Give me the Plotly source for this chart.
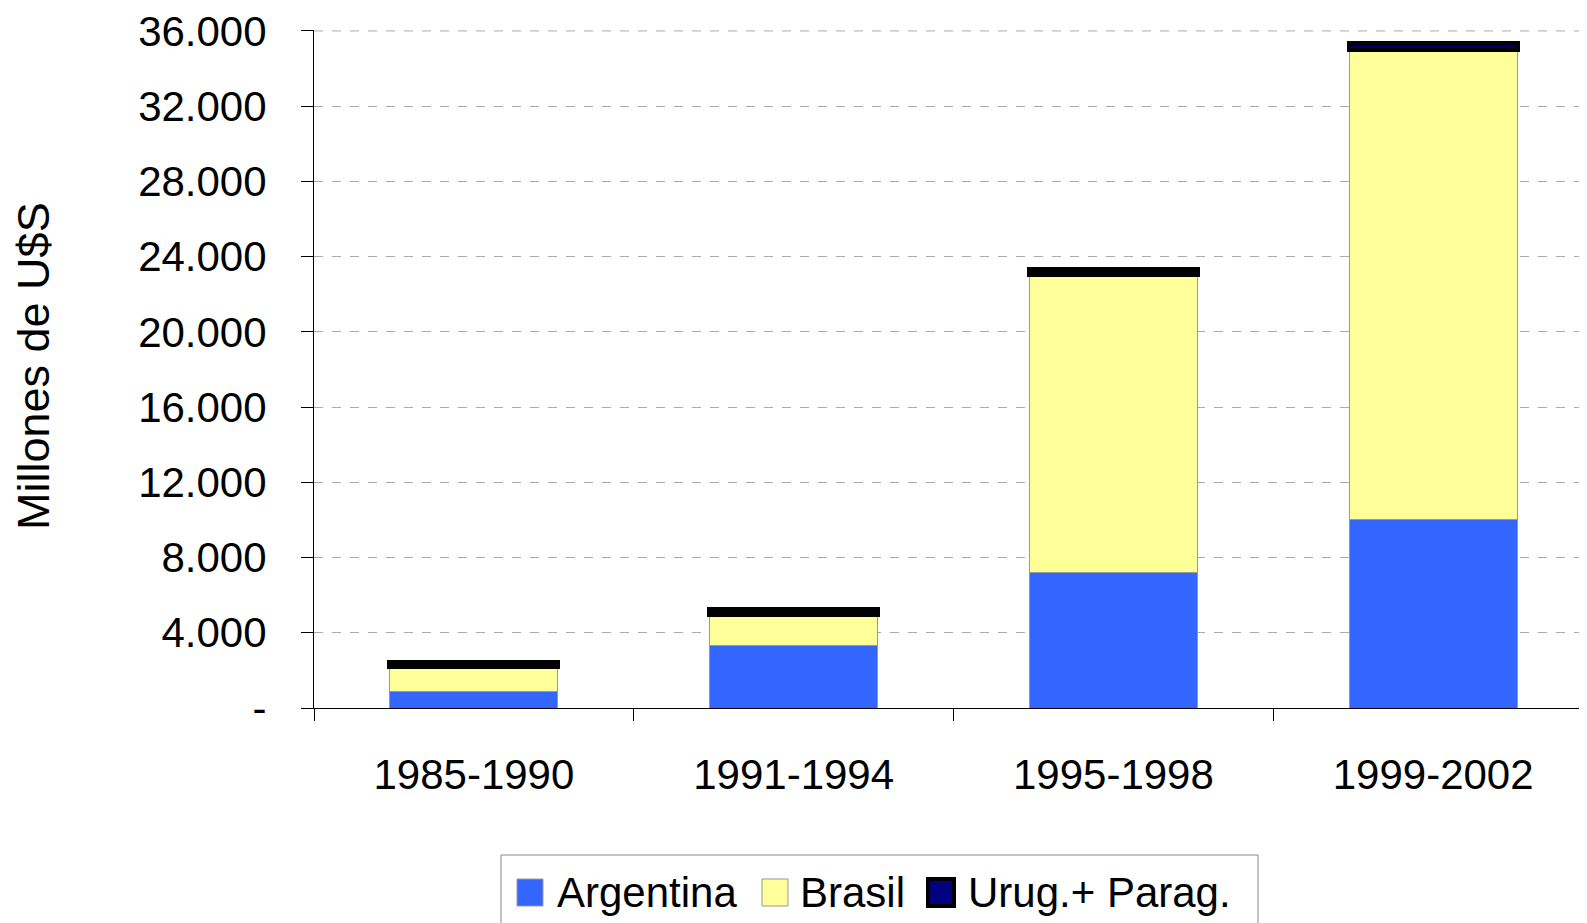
import plotly.graph_objects as go

periods = ["1985-1990", "1991-1994", "1995-1998", "1999-2002"]
argentina = [860, 3330, 7200, 10000]
brasil = [1330, 1650, 15850, 25030]
urug_parag = [220, 240, 280, 300]

series_names = ["Argentina", "Brasil", "Urug.+ Parag."]
series_colors = ["#3366FF", "#FFFF99", "#000080"]

ytick_vals = [0, 4000, 8000, 12000, 16000, 20000, 24000, 28000, 32000, 36000]
ytick_text = ["-", "4.000", "8.000", "12.000", "16.000", "20.000", "24.000", "28.000", "32.000", "36.000"]

FONT = "Liberation Sans, Arial, sans-serif"
W = 0.525

fig = go.Figure()
fig.add_trace(go.Bar(x=periods, y=argentina, name=series_names[0], width=W, showlegend=False,
                     marker=dict(color=series_colors[0], line=dict(color="#999999", width=1))))
fig.add_trace(go.Bar(x=periods, y=brasil, name=series_names[1], width=W, showlegend=False,
                     marker=dict(color=series_colors[1], line=dict(color="#999999", width=1))))
fig.add_trace(go.Bar(x=periods, y=urug_parag, name=series_names[2], width=W, showlegend=False,
                     marker=dict(color=series_colors[2], line=dict(color="#000000", width=5))))

# page has 8px body margin -> offset target page coords
OFF = 8
L = 314 - OFF
T = 30 - OFF
PH = 708 - 30
R = 2
PW = 1587 - L - R

def px(x):
    return (x - OFF - L) / PW

def py(y):
    return (T + PH - (y - OFF)) / PH

shapes = [dict(type="line", xref="paper", yref="y", x0=0, x1=1,
               y0=ytick_vals[-1], y1=ytick_vals[-1], layer="below",
               line=dict(color="#aaaaaa", width=1, dash="dash")),
          dict(type="rect", xref="paper", yref="paper",
               x0=px(501), x1=px(1258), y0=py(945), y1=py(855),
               line=dict(color="#888888", width=1), fillcolor="rgba(0,0,0,0)")]
annotations = []
sq_x = [517, 762, 928]
txt_x = [555, 798, 966]
for i, name in enumerate(series_names):
    lw = 4 if i == 2 else 1
    lc = "#000000" if i == 2 else "#999999"
    shapes.append(dict(type="rect", xref="paper", yref="paper",
                       x0=px(sq_x[i]), x1=px(sq_x[i] + 26), y0=py(906), y1=py(879),
                       line=dict(color=lc, width=lw), fillcolor=series_colors[i]))
    annotations.append(dict(text=name, xref="paper", yref="paper", x=px(txt_x[i]), y=py(892),
                            xanchor="left", yanchor="middle", showarrow=False,
                            font=dict(size=42)))

annotations.append(dict(text="Millones de U$S", xref="paper", yref="paper",
                        x=px(33), y=py(366), textangle=-90, showarrow=False,
                        font=dict(size=45), xanchor="center", yanchor="middle"))

fig.update_layout(
    width=1587, height=923,
    barmode="stack",
    plot_bgcolor="white", paper_bgcolor="white",
    margin=dict(l=L, r=R, t=T, b=923 - T - PH, autoexpand=False),
    font=dict(family=FONT, size=42, color="black"),
    showlegend=False,
    xaxis=dict(type="category", range=[-0.5, 3.5], showgrid=False,
               showline=True, linecolor="black", linewidth=1,
               ticks="outside", tickson="boundaries", ticklen=12, tickcolor="black",
               tickfont=dict(size=42), ticklabelstandoff=30),
    yaxis=dict(range=[0, 36050], tickvals=ytick_vals, ticktext=ytick_text,
               showgrid=True, gridcolor="#aaaaaa", griddash="dash", gridwidth=1,
               showline=True, linecolor="black", linewidth=1,
               ticks="outside", ticklen=12, tickcolor="black",
               ticklabeloverflow="allow",
               tickfont=dict(size=42), ticklabelstandoff=26, zeroline=False),
    shapes=shapes,
    annotations=annotations,
)

fig.write_html("out.html")
